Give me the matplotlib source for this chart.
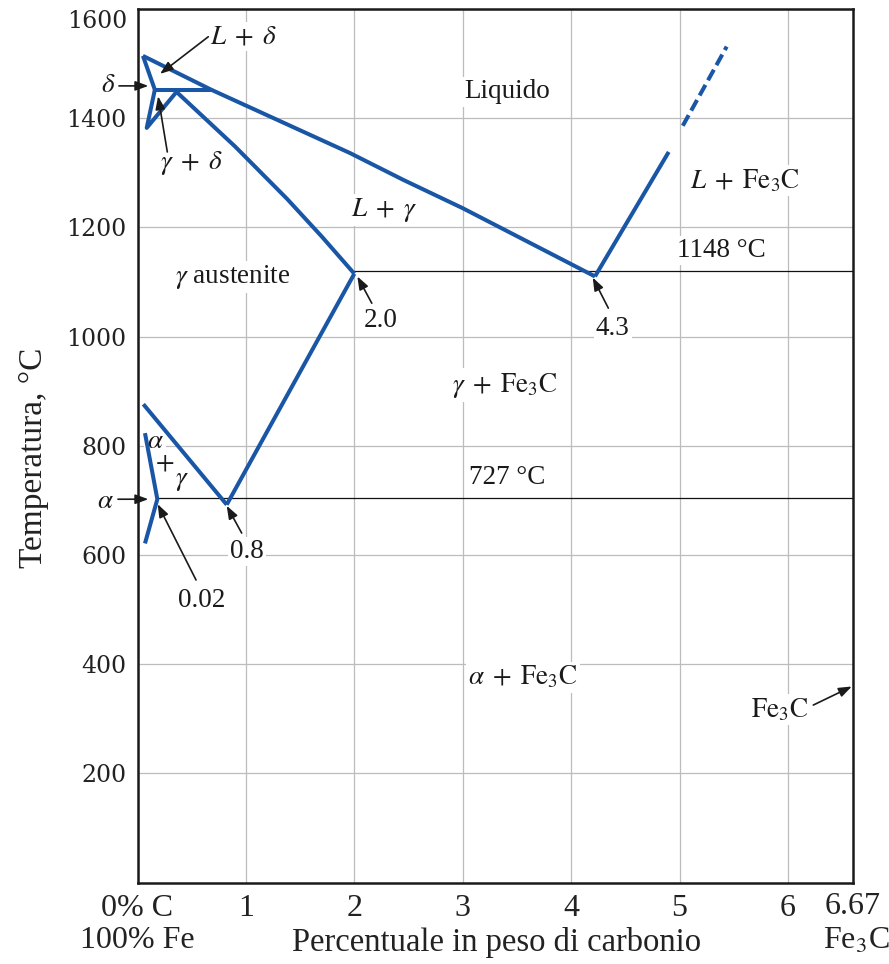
import matplotlib
matplotlib.use('Agg')
import matplotlib.pyplot as plt

plt.rcParams['font.family'] = ['Liberation Serif', 'DejaVu Serif']
plt.rcParams['mathtext.fontset'] = 'stix'

# ---------------- data (wt% C, temperature °C) ----------------
liquidus_left_x = [0.05, 0.68, 1.96, 2.45, 3.0, 4.22]
liquidus_left_y = [1514, 1452, 1336, 1287, 1235, 1110]
peritectic_x = [0.16, 0.68]
peritectic_y = [1452, 1452]
delta_left_x = [0.05, 0.16]
delta_left_y = [1514, 1452]
gamma_delta_x = [0.16, 0.085, 0.36]
gamma_delta_y = [1452, 1382, 1448]
solidus_x = [0.36, 0.9, 1.38, 1.7, 2.0]
solidus_y = [1448, 1348, 1252, 1183, 1115]
liquidus_right_x = [4.22, 4.90]
liquidus_right_y = [1110, 1338]
liquidus_dash_x = [5.03, 5.435]
liquidus_dash_y = [1386, 1531]
a3_x = [0.054, 0.823]
a3_y = [876, 692]
acm_x = [0.823, 2.0]
acm_y = [692, 1115]
alpha_x = [0.069, 0.183, 0.069]
alpha_y = [823, 702, 621]
eutectic_x = [2.0, 6.6]
eutectic_y = [1120, 1120]
eutectoid_x = [0.183, 6.6]
eutectoid_y = [704, 704]

x_ticks = [0, 1, 2, 3, 4, 5, 6]
x_ticklabels = ['0% C', '1', '2', '3', '4', '5', '6']
y_ticks = [200, 400, 600, 800, 1000, 1200, 1400]
y_ticklabels = ['200', '400', '600', '800', '1000', '1200', '1400']

# region labels: (text, x, y)
region_labels = [
    ('Liquido', 3.408, 1448),
    (r'$L\;+\;\mathrm{Fe}_3\mathrm{C}$', 5.60, 1285),
    ('1148 °C', 5.383, 1158),
    (r'$L\;+\;\gamma$', 2.274, 1232),
    (r'$\gamma$ austenite', 0.881, 1109),
    (r'$\gamma\;+\;\mathrm{Fe}_3\mathrm{C}$', 3.385, 911),
    ('727 °C', 3.408, 741),
    (r'$\alpha\;+\;\mathrm{Fe}_3\mathrm{C}$', 3.555, 376),
    (r'$\alpha$', 0.161, 807),
    (r'$+$', 0.254, 768),
    (r'$\gamma$', 0.408, 737),
]

# arrow callouts: (text, text_x, text_y, tail_x, tail_y, tip_x, tip_y)
callouts = [
    (r'$L\;+\;\delta$', 0.975, 1549, 0.653, 1549, 0.208, 1481),
    (r'$\gamma\;+\;\delta$', 0.50, 1317, 0.275, 1338, 0.19, 1440),
    (r'$\delta$', -0.272, 1459, -0.171, 1459, 0.10, 1459),
    (r'$\alpha$', -0.30, 697, -0.18, 702, 0.10, 702),
    ('0.02', 0.592, 517, 0.540, 554, 0.186, 693),
    ('0.8', 1.007, 606, 0.961, 640, 0.823, 690),
    ('2.0', 2.246, 1030, 2.161, 1061, 2.028, 1110),
    ('4.3', 4.382, 1015, 4.343, 1052, 4.199, 1108),
    (r'$\mathrm{Fe}_3\mathrm{C}$', 5.927, 316, 6.234, 325, 6.589, 359),
]

# ---------------- figure ----------------
W, H = 889, 964
fig = plt.figure(figsize=(W / 100, H / 100), dpi=100)
left_px, right_px, top_px, bot_px = 137.5, 853, 8.9, 882.5
ax = fig.add_axes([left_px / W, 1 - bot_px / H,
                   (right_px - left_px) / W, (bot_px - top_px) / H])
ax.set_xlim(0, 6.6)
ax.set_ylim(0, 1600)

blue = '#1a56a6'
lw = 2.9
ax.set_axisbelow(True)
ax.grid(True, color='#bcbcbc', lw=0.9)
ax.set_xticks(x_ticks)
ax.set_xticklabels(x_ticklabels, fontsize=23)
ax.set_yticks(y_ticks + [1600])
ax.set_yticklabels(y_ticklabels + [''], fontsize=17, family='DejaVu Serif',
                   color='#222222')
ax.tick_params(axis='both', length=0)
ax.tick_params(axis='x', pad=8, colors='#222222')
ax.tick_params(axis='y', pad=8)
for s in ax.spines.values():
    s.set_linewidth(1.8)
    s.set_color('#1a1a1a')

ax.annotate('1600', xy=(0, 1600), xytext=(-10.5, -13), textcoords='offset pixels',
            ha='right', va='center', fontsize=17, family='DejaVu Serif',
            color='#222222', annotation_clip=False)

# thin black isotherms
ax.plot(eutectic_x, eutectic_y, color='#111111', lw=0.9, zorder=3)
ax.plot(eutectoid_x, eutectoid_y, color='#111111', lw=0.9, zorder=3)

kw = dict(color=blue, lw=lw, solid_capstyle='butt', solid_joinstyle='round', zorder=5)
for xs, ys in [(liquidus_left_x, liquidus_left_y), (peritectic_x, peritectic_y),
               (delta_left_x, delta_left_y), (gamma_delta_x, gamma_delta_y),
               (solidus_x, solidus_y), (liquidus_right_x, liquidus_right_y),
               (a3_x, a3_y), (acm_x, acm_y), (alpha_x, alpha_y)]:
    ax.plot(xs, ys, **kw)
ax.plot(liquidus_dash_x, liquidus_dash_y, color=blue, lw=lw, dashes=(3.0, 1.3),
        dash_capstyle='butt', zorder=5)

box = dict(boxstyle='square,pad=0.08', fc='white', ec='none')
fs = 19.5
for t, x, y in region_labels:
    ax.text(x, y, t, fontsize=fs, ha='center', va='center', color='#1a1a1a',
            bbox=box, zorder=4)

for t, tx, ty, ax0, ay0, bx, by in callouts:
    ax.annotate('', xy=(bx, by), xytext=(ax0, ay0), annotation_clip=False,
                arrowprops=dict(arrowstyle='-|>,head_length=0.65,head_width=0.24',
                                color='#1a1a1a', lw=1.2, shrinkA=0, shrinkB=0,
                                mutation_scale=12), zorder=6)
    ax.text(tx, ty, t, fontsize=fs, ha='center', va='center', color='#1a1a1a',
            bbox=box, zorder=4, clip_on=False)

# extra axis texts
trans = ax.get_xaxis_transform()
ax.text(0.0, (bot_px - 941) / (bot_px - top_px), '100% Fe', transform=trans,
        ha='center', va='center', fontsize=23, color='#222222')
ax.text(1.0, (bot_px - 906) / (bot_px - top_px), '6.67', transform=ax.transAxes,
        ha='center', va='center', fontsize=23, color='#222222')
ax.text(1.005, (bot_px - 941) / (bot_px - top_px), r'Fe$_3$C', transform=ax.transAxes,
        ha='center', va='center', fontsize=23, color='#222222')

ax.set_xlabel('Percentuale in peso di carbonio', fontsize=23.5, color='#222222')
ax.xaxis.set_label_coords((497 - left_px) / (right_px - left_px),
                          (bot_px - 942) / (bot_px - top_px))
ax.xaxis.label.set_va('center')
ax.set_ylabel('Temperatura, °C', fontsize=24, color='#222222')
ax.yaxis.set_label_coords((34 - left_px) / (right_px - left_px),
                          (bot_px - 458) / (bot_px - top_px))
ax.yaxis.label.set_va('center')

fig.savefig('out.png', dpi=100)
